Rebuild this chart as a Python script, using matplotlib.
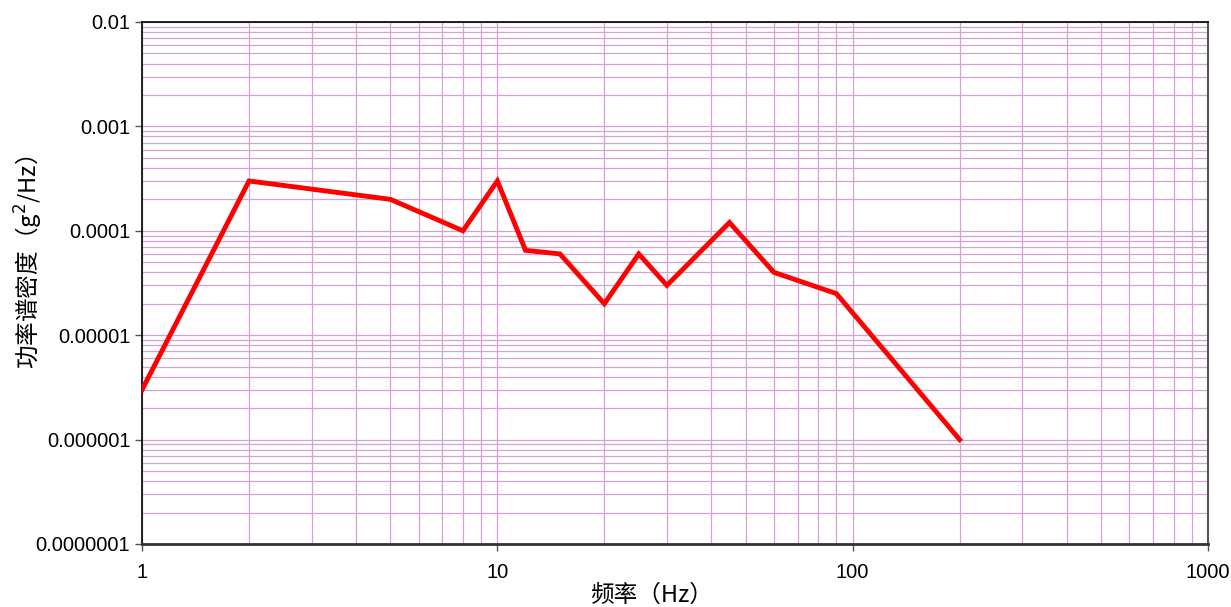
import matplotlib.pyplot as plt
import numpy as np
from matplotlib.ticker import LogLocator, FixedLocator, NullFormatter

plt.rcParams['font.family'] = ['Liberation Sans', 'Noto Sans CJK SC', 'DejaVu Sans']

# 频率 (Hz) 与功率谱密度 (g^2/Hz)
freq = [1, 2, 5, 8, 10, 12, 15, 20, 25, 30, 45, 60, 90, 200]
psd = [3e-6, 3e-4, 2e-4, 1e-4, 3e-4, 6.5e-5, 6e-5, 2e-5, 6e-5, 3e-5, 1.2e-4, 4e-5, 2.5e-5, 1e-6]

y_ticks = [1e-7, 1e-6, 1e-5, 1e-4, 1e-3, 1e-2]
y_labels = ["0.0000001", "0.000001", "0.00001", "0.0001", "0.001", "0.01"]
x_ticks = [1, 10, 100, 1000]
x_labels = ["1", "10", "100", "1000"]

fig = plt.figure(figsize=(12.31, 6.07), dpi=100)
ax = fig.add_axes([0.1154, 0.1038, 0.8659, 0.86])

ax.set_xscale("log")
ax.set_yscale("log")
ax.set_xlim(1, 1000)
ax.set_ylim(1e-7, 1e-2)

grid_c = "#d4a2d4"
ax.xaxis.set_minor_locator(LogLocator(base=10, subs=np.arange(2, 10)))
ax.yaxis.set_minor_locator(LogLocator(base=10, subs=np.arange(2, 10)))
ax.xaxis.set_minor_formatter(NullFormatter())
ax.yaxis.set_minor_formatter(NullFormatter())
ax.grid(True, which="both", color=grid_c, linewidth=0.9)
ax.set_axisbelow(True)

ax.plot(freq, psd, color="#ff0000", linewidth=3.5, solid_joinstyle="miter", zorder=3)

ax.yaxis.set_major_locator(FixedLocator(y_ticks))
ax.set_yticklabels(y_labels)
ax.xaxis.set_major_locator(FixedLocator(x_ticks))
ax.set_xticklabels(x_labels)
ax.tick_params(axis="both", which="major", direction="out", length=5, width=1,
               colors="#555555", labelcolor="black", labelsize=14.5)
ax.tick_params(axis="x", which="major", pad=9)
ax.tick_params(which="minor", length=0)

for s in ["left", "top"]:
    ax.spines[s].set_color("black")
    ax.spines[s].set_linewidth(1.2)
ax.spines["right"].set_color("#555555")
ax.spines["right"].set_linewidth(1.5)
ax.spines["bottom"].set_color("#333333")
ax.spines["bottom"].set_linewidth(2)

ax.set_xlabel("频率（Hz）", fontsize=17, family=["Noto Sans CJK SC"], va="center")
ax.xaxis.set_label_coords(0.478, -0.098)
ax.set_ylabel("功率谱密度（g$^2$/Hz）", fontsize=17, family=["Noto Sans CJK SC"], va="center")
ax.yaxis.set_label_coords(-0.106, 0.54)

fig.savefig("out.png", dpi=100)
